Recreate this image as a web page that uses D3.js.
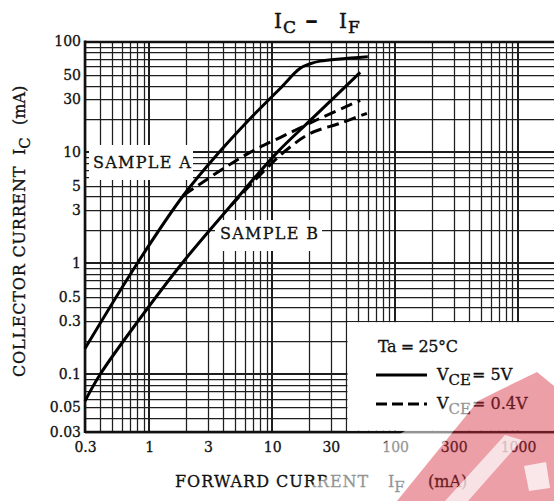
<!DOCTYPE html>
<html>
<head>
<meta charset="utf-8">
<script src="https://cdn.jsdelivr.net/npm/d3@7"></script>
<style>
  body { margin: 0; background: #fff; }
  text { font-family: "DejaVu Serif", serif; fill: #111; stroke: #111; stroke-width: 0.3px; }
</style>
</head>
<body>
<svg id="chart" width="554" height="501"></svg>
<script>
// Forward current I_F (mA) vs collector current I_C (mA)
const ifA5V  = [0.3, 0.8, 1.9, 3.7, 6.4, 11.6, 16.8, 20.4, 24.5, 60];
const icA5V  = [0.17, 1, 4.1, 10, 19.4, 37.7, 57, 63, 66.5, 73];
const ifA04V = [1.9, 3.6, 6.6, 11.6, 24.6, 52];
const icA04V = [4.1, 6.6, 10, 13.6, 20.3, 29.4];
const ifB5V  = [0.3, 0.4, 0.81, 1.85, 4.6, 11, 20.4, 52];
const icB5V  = [0.057, 0.1, 0.3, 1, 3.3, 10, 19.4, 52.7];
const ifB04V = [4.6, 8.8, 13.2, 20.4, 35.7, 59];
const icB04V = [3.3, 7.0, 10.6, 14.8, 18.3, 22.5];

const xTickValues = [0.3, 1, 3, 10, 30, 100, 300, 1000];
const yTickValues = [0.03, 0.05, 0.1, 0.3, 0.5, 1, 3, 5, 10, 30, 50, 100];

const svg = d3.select("#chart");
const x = d3.scaleLog().domain([0.3, 2000]).range([85, 555]);
const y = d3.scaleLog().domain([0.03, 100]).range([432, 41.5]);
const [x0, x1] = x.range();
const [yb, yt] = y.range();

const isDecade = v => Math.abs(Math.log10(v) - Math.round(Math.log10(v))) < 1e-6;
const crisp = p => Math.round(p) + 0.5;

// log grid
const grid = svg.append("g").attr("stroke", "#1e1e1e");
x.ticks().forEach(v => {
  const px = isDecade(v) ? Math.round(x(v)) : crisp(x(v));
  grid.append("line").attr("x1", px).attr("x2", px).attr("y1", yt).attr("y2", yb)
    .attr("stroke-width", isDecade(v) ? 2 : 1.25);
});
y.ticks().forEach(v => {
  const py = isDecade(v) ? Math.round(y(v)) : crisp(y(v));
  grid.append("line").attr("x1", x0).attr("x2", x1).attr("y1", py).attr("y2", py)
    .attr("stroke-width", isDecade(v) ? 2 : 1.25);
});

// frame: left, top, bottom
svg.append("line").attr("x1", x0).attr("x2", x0).attr("y1", yt - 1).attr("y2", yb + 1)
  .attr("stroke", "#111").attr("stroke-width", 2.6);
svg.append("line").attr("x1", x0).attr("x2", x1).attr("y1", Math.round(yt)).attr("y2", Math.round(yt))
  .attr("stroke", "#111").attr("stroke-width", 2.4);
svg.append("line").attr("x1", x0).attr("x2", x1).attr("y1", yb).attr("y2", yb)
  .attr("stroke", "#111").attr("stroke-width", 2.6);

// cleared label areas
const clear = svg.append("g").attr("fill", "#fff");
clear.append("rect").attr("x", 89).attr("y", 145).attr("width", 104).attr("height", 35);
clear.append("rect").attr("x", 215).attr("y", 220).attr("width", 107).attr("height", 31);
clear.append("rect").attr("x", 347.5).attr("y", 322.2).attr("width", 210).attr("height", yb - 1.3 - 322.2);

// curves
const line = d3.line().x(d => x(d[0])).y(d => y(d[1])).curve(d3.curveCatmullRom.alpha(0.5));
const curves = [
  { xs: ifA5V, ys: icA5V, dash: null },
  { xs: ifB5V, ys: icB5V, dash: null },
  { xs: ifA04V, ys: icA04V, dash: "12,6" },
  { xs: ifB04V, ys: icB04V, dash: "12,6" }
];
curves.forEach(c => {
  svg.append("path")
    .datum(d3.zip(c.xs, c.ys))
    .attr("d", line)
    .attr("fill", "none")
    .attr("stroke", "#000")
    .attr("stroke-width", 3)
    .attr("stroke-linejoin", "round")
    .attr("stroke-dasharray", c.dash);
});

// axes tick labels
const fmt = d3.format("~g");
const yAxis = svg.append("g").attr("transform", `translate(${x0},0)`)
  .call(d3.axisLeft(y).tickValues(yTickValues).tickSize(0).tickPadding(4).tickFormat(fmt));
const xAxis = svg.append("g").attr("transform", `translate(0,${yb})`)
  .call(d3.axisBottom(x).tickValues(xTickValues).tickSize(0).tickPadding(10).tickFormat(fmt));
[yAxis, xAxis].forEach(a => {
  a.select(".domain").remove();
  a.selectAll("text").attr("font-family", "DejaVu Serif").attr("font-size", 14)
    .attr("fill", "#111").attr("stroke", "#111").attr("stroke-width", 0.5);
});

// title
const title = svg.append("text").attr("y", 28).attr("font-size", 20).style("stroke-width", "0.5px");
title.append("tspan").attr("x", 274).text("I");
title.append("tspan").attr("x", 283).attr("dy", 5).attr("font-size", 17).text("C");
title.append("tspan").attr("x", 306).attr("dy", -5).attr("font-size", 22)
  .style("stroke-width", "1.3px").text("–");
title.append("tspan").attr("x", 339).attr("font-size", 20).text("I");
title.append("tspan").attr("x", 348).attr("dy", 5).attr("font-size", 17).text("F");

// sample labels
svg.append("text").attr("x", 93).attr("y", 168).attr("font-size", 16)
  .attr("letter-spacing", 1.3).text("SAMPLE A");
svg.append("text").attr("x", 220).attr("y", 239).attr("font-size", 16)
  .attr("letter-spacing", 1.3).text("SAMPLE B");

// legend
svg.append("text").attr("x", 378).attr("y", 352).attr("font-size", 16)
  .attr("letter-spacing", -0.4).text("Ta = 25°C");
const legendItems = [
  { dash: null, y: 375, value: "5V" },
  { dash: "11,5", y: 404, value: "0.4V" }
];
legendItems.forEach(it => {
  svg.append("line").attr("x1", 376).attr("x2", 427).attr("y1", it.y).attr("y2", it.y)
    .attr("stroke", "#000").attr("stroke-width", 3).attr("stroke-dasharray", it.dash);
  const t = svg.append("text").attr("y", it.y + 5).attr("font-size", 16);
  t.append("tspan").attr("x", 437).text("V");
  t.append("tspan").attr("dy", 5).attr("font-size", 15).text("CE");
  t.append("tspan").attr("dy", -5).attr("dx", 1).text("= " + it.value);
});

// axis titles
svg.append("text").attr("x", 175).attr("y", 487).attr("font-size", 16)
  .attr("letter-spacing", 1).text("FORWARD CURRENT");
const xt = svg.append("text").attr("y", 487).attr("font-size", 16);
xt.append("tspan").attr("x", 388).text("I");
xt.append("tspan").attr("dy", 5).attr("font-size", 15).text("F");
xt.append("tspan").attr("x", 428).attr("dy", -5).text("(mA)");

const yt2 = svg.append("text").attr("transform", "translate(25,377) rotate(-90)").attr("font-size", 16);
yt2.append("tspan").attr("x", 0).attr("letter-spacing", 0.8).text("COLLECTOR CURRENT");
yt2.append("tspan").attr("x", 222).text("I");
yt2.append("tspan").attr("dy", 5).attr("font-size", 15).text("C");
yt2.append("tspan").attr("x", 252).attr("dy", -5).text("(mA)");

// red mark in the lower right corner
const mark = svg.append("g");
mark.append("path")
  .attr("d", "M285,501 L405,431 L455,401 L478,401 L397,501 Z")
  .attr("fill", "#fff").attr("opacity", 0.55);
mark.append("path")
  .attr("d", "M397,501 L478,401 L500,390 L537,372 L554,386 L554,501 Z")
  .attr("fill", "#d42a3c").attr("opacity", 0.45);
mark.append("path")
  .attr("d", "M445,501 L505,435 L522,440 L468,501 Z")
  .attr("fill", "#fff").attr("opacity", 0.7);
mark.append("path")
  .attr("d", "M524,466 L546,462 L550,488 L529,491 Z")
  .attr("fill", "#fff").attr("opacity", 0.75);
</script>
</body>
</html>
